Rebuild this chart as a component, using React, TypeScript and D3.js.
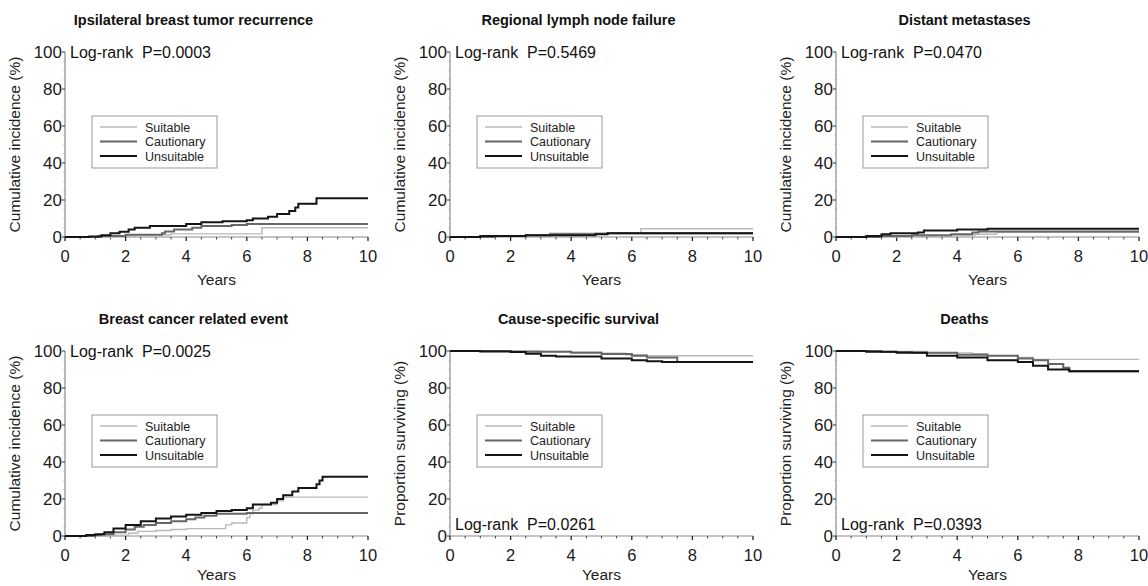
import { useMemo } from "react";
import * as d3 from "d3";

// [years, %] step points, each series runs flat to 10 years
const ibtrSuitable: [number, number][] = [[0, 0], [1.5, 0.5], [2.3, 1.2], [3.5, 1.7], [6.5, 5]];
const ibtrCautionary: [number, number][] = [[0, 0], [1.1, 0.5], [2, 1.2], [3.2, 2], [3.3, 3], [3.6, 4], [4.2, 5], [4.5, 6], [5.5, 6.5], [6, 7]];
const ibtrUnsuitable: [number, number][] = [[0, 0], [0.8, 0.3], [1.2, 1], [1.5, 2], [1.8, 2.8], [2.1, 4], [2.3, 5], [2.8, 6], [4, 7], [4.5, 8], [5.2, 8.5], [6, 9], [6.2, 10], [6.7, 11], [7, 12.5], [7.4, 14], [7.6, 16], [7.7, 18], [8.3, 21]];

const rlnSuitable: [number, number][] = [[0, 0], [1.2, 0.4], [2.5, 1], [3.3, 2], [6.3, 4.5]];
const rlnCautionary: [number, number][] = [[0, 0], [1.5, 0.5], [2.5, 1], [3.3, 1.5], [4.8, 1.8], [5.2, 2]];
const rlnUnsuitable: [number, number][] = [[0, 0], [1, 0.5], [2.5, 1], [4.8, 1.5], [5.2, 2]];

const dmSuitable: [number, number][] = [[0, 0], [2, 0.5], [3.8, 1], [4.6, 1.5], [5.3, 2.5]];
const dmCautionary: [number, number][] = [[0, 0], [1.5, 0.5], [2.5, 1], [3.8, 1.5], [4.5, 2.5], [4.7, 3]];
const dmUnsuitable: [number, number][] = [[0, 0], [1, 0.5], [1.5, 1.5], [1.8, 2], [2.7, 2.5], [2.9, 3.5], [4, 4], [5, 4.5]];

const bcreSuitable: [number, number][] = [[0, 0], [1.5, 0.5], [2.1, 1.5], [2.4, 2.5], [3, 3], [3.5, 3.5], [4, 4], [5.2, 4], [5.3, 6], [5.5, 7], [6, 10], [6.1, 12], [6.2, 14], [6.4, 15], [6.5, 17], [7, 19], [7.2, 21]];
const bcreCautionary: [number, number][] = [[0, 0], [1, 0.5], [1.2, 1], [1.6, 2], [2, 3.5], [2.3, 5], [2.6, 6], [3, 7], [3.5, 8], [4, 9], [4.3, 10], [4.6, 11], [5, 12], [6, 12.5]];
const bcreUnsuitable: [number, number][] = [[0, 0], [0.7, 0.5], [1, 1], [1.3, 2], [1.6, 4], [2, 6], [2.5, 8], [3, 9.5], [3.5, 10.5], [4, 11.5], [4.5, 12.5], [5, 13.5], [5.5, 14], [6, 15], [6.2, 17], [6.8, 18], [7, 20], [7.2, 22], [7.5, 24], [7.7, 26], [8.3, 28], [8.4, 30], [8.5, 32]];

const cssSuitable: [number, number][] = [[0, 100], [3, 99.7], [4, 99.3], [5, 98.8], [5.8, 98], [6.5, 97.4]];
const cssCautionary: [number, number][] = [[0, 100], [2, 99.6], [4, 99], [5, 98.4], [6, 97.5], [6.5, 96.5], [7.5, 94]];
const cssUnsuitable: [number, number][] = [[0, 100], [1, 99.7], [2, 99.4], [2.5, 98.5], [3, 97.5], [3.5, 97], [5, 96], [6, 95], [6.5, 94.5], [7, 94]];

const deathSuitable: [number, number][] = [[0, 100], [1, 99.7], [3, 99], [4.5, 98.5], [5, 97.5], [6, 96.5], [6.5, 95.5]];
const deathCautionary: [number, number][] = [[0, 100], [1.5, 99.5], [2.5, 99], [4, 98], [5, 97.5], [6, 96], [6.5, 95], [7, 93], [7.5, 91], [7.7, 89]];
const deathUnsuitable: [number, number][] = [[0, 100], [1, 99.6], [2, 99], [3, 97.5], [4, 96.5], [5, 95], [6, 94], [6.5, 92], [7, 90], [7.7, 89]];

const groupNames = ["Suitable", "Cautionary", "Unsuitable"];
const groupColors = ["#b9b9b9", "#666666", "#151515"];
const groupWidths = [1.4, 2, 2];

const panels = [
  { title: "Ipsilateral breast tumor recurrence", ylabel: "Cumulative incidence (%)", p: "Log-rank  P=0.0003", pBottom: false, series: [ibtrSuitable, ibtrCautionary, ibtrUnsuitable] },
  { title: "Regional lymph node failure", ylabel: "Cumulative incidence (%)", p: "Log-rank  P=0.5469", pBottom: false, series: [rlnSuitable, rlnCautionary, rlnUnsuitable] },
  { title: "Distant metastases", ylabel: "Cumulative incidence (%)", p: "Log-rank  P=0.0470", pBottom: false, series: [dmSuitable, dmCautionary, dmUnsuitable] },
  { title: "Breast cancer related event", ylabel: "Cumulative incidence (%)", p: "Log-rank  P=0.0025", pBottom: false, series: [bcreSuitable, bcreCautionary, bcreUnsuitable] },
  { title: "Cause-specific survival", ylabel: "Proportion surviving (%)", p: "Log-rank  P=0.0261", pBottom: true, series: [cssSuitable, cssCautionary, cssUnsuitable] },
  { title: "Deaths", ylabel: "Proportion surviving (%)", p: "Log-rank  P=0.0393", pBottom: true, series: [deathSuitable, deathCautionary, deathUnsuitable] },
];

const COL_X = [65, 450, 836];
const ROW_Y = [52, 351];
const YEARS_DY = [48, 44]; // bottom row label sits right at the page edge
const PW = 303;
const PH = 185;
const FONT = "Arial, 'Liberation Sans', Helvetica, sans-serif";

const Panel = ({ left, top, yearsDy, cfg }) => {
  const x = useMemo(() => d3.scaleLinear().domain([0, 10]).range([0, PW]), []);
  const y = useMemo(() => d3.scaleLinear().domain([0, 100]).range([PH, 0]), []);
  const line = d3.line<[number, number]>().x((d) => x(d[0])).y((d) => y(d[1])).curve(d3.curveStepAfter);

  const xMajor = x.ticks(5);
  const xMinor = d3.range(0, 10.01, 0.5).filter((t) => !xMajor.includes(t));
  const yMajor = y.ticks(5);
  const yMinor = d3.range(0, 100.1, 5).filter((t) => !yMajor.includes(t));

  return (
    <g transform={`translate(${left},${top})`} fontFamily={FONT}>
      <text x={PW / 2 - 23} y={-27} textAnchor="middle" fontSize={14.5} fontWeight="bold" fill="#111">{cfg.title}</text>
      <text transform={`translate(${-45},${PH / 2}) rotate(-90)`} textAnchor="middle" fontSize={15.5} fill="#222">{cfg.ylabel}</text>
      <text x={PW / 2} y={PH + yearsDy} textAnchor="middle" fontSize={15.5} fill="#222">Years</text>

      {/* axes */}
      <line x1={0} x2={0} y1={0} y2={PH} stroke="#8a8a8a" strokeWidth={1.2} />
      <line x1={0} x2={PW} y1={PH} y2={PH} stroke="#8a8a8a" strokeWidth={1.2} />
      {yMajor.map((t) => (
        <g key={"ym" + t}>
          <line x1={-3} x2={0} y1={y(t)} y2={y(t)} stroke="#333" />
          <text x={-3} y={y(t) + 6} textAnchor="end" fontSize={17} fill="#1a1a1a">{t}</text>
        </g>
      ))}
      {yMinor.map((t) => (
        <line key={"yn" + t} x1={-1.5} x2={0} y1={y(t)} y2={y(t)} stroke="#aaa" />
      ))}
      {xMajor.map((t) => (
        <g key={"xm" + t}>
          <line x1={x(t)} x2={x(t)} y1={PH} y2={PH + 4} stroke="#222" strokeWidth={1.3} />
          <text x={x(t)} y={PH + 25} textAnchor="middle" fontSize={16.5} fill="#1a1a1a">{t}</text>
        </g>
      ))}
      {xMinor.map((t) => (
        <line key={"xn" + t} x1={x(t)} x2={x(t)} y1={PH} y2={PH + 2.5} stroke="#444" />
      ))}

      {/* curves */}
      {cfg.series.map((s, i) => {
        const pts: [number, number][] = [...s, [10, s[s.length - 1][1]]];
        return <path key={i} d={line(pts) || ""} fill="none" stroke={groupColors[i]} strokeWidth={groupWidths[i]} />;
      })}

      <text x={5} y={cfg.pBottom ? PH - 6 : 6} fontSize={16} fill="#111" style={{ whiteSpace: "pre" }}>{cfg.p}</text>

      {/* legend */}
      <g transform="translate(27,64)">
        <rect x={0} y={0} width={125} height={52} fill="#fff" stroke="#999" strokeWidth={1} />
        {groupNames.map((g, i) => (
          <g key={g} transform={`translate(0,${11 + i * 14.5})`}>
            <line x1={8} x2={45} y1={0} y2={0} stroke={groupColors[i]} strokeWidth={groupWidths[i]} />
            <text x={53} y={4.5} fontSize={12.5} fill="#222">{g}</text>
          </g>
        ))}
      </g>
    </g>
  );
};

const App = () => {
  return (
    <svg width={1148} height={586} style={{ position: "absolute", left: 0, top: 0, background: "#fff" }}>
      {panels.map((p, i) => (
        <Panel key={i} left={COL_X[i % 3]} top={ROW_Y[Math.floor(i / 3)]} yearsDy={YEARS_DY[Math.floor(i / 3)]} cfg={p} />
      ))}
    </svg>
  );
};

export default App;
